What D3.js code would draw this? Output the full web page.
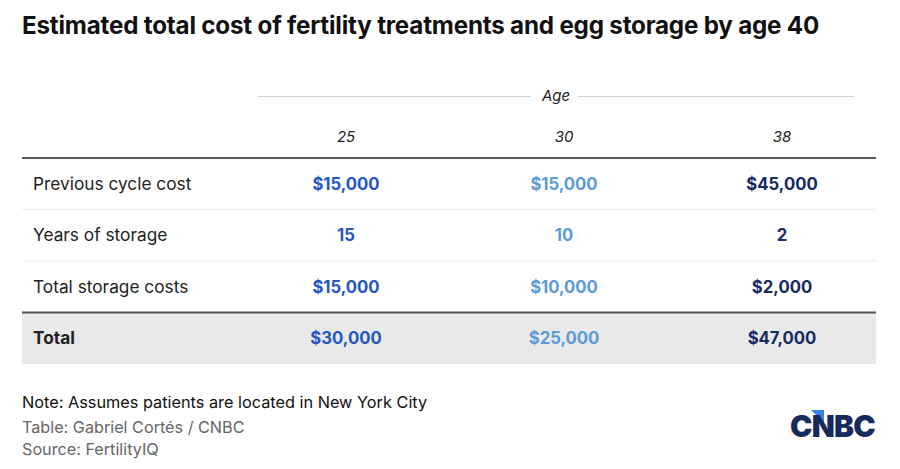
<!DOCTYPE html>
<html>
<head>
<meta charset="utf-8">
<script src="https://cdn.jsdelivr.net/npm/d3@7"></script>
<style>
  html, body { margin: 0; padding: 0; background: #fff; }
  svg { display: block; }
</style>
</head>
<body>
<svg id="chart" width="900" height="469"></svg>
<script>
// ---- data ----
const ages = ["25", "30", "38"];
const rowLabels = ["Previous cycle cost", "Years of storage", "Total storage costs", "Total"];
const previousCycleCost = [15000, 15000, 45000];
const yearsOfStorage = [15, 10, 2];
const totalStorageCosts = [15000, 10000, 2000];
const totals = [30000, 25000, 47000];
const ageColors = ["#2456c4", "#5b9bd8", "#152a63"];
const title = "Estimated total cost of fertility treatments and egg storage by age 40";
const note = "Note: Assumes patients are located in New York City";
const credit = "Table: Gabriel Cortés / CNBC";
const source = "Source: FertilityIQ";

const rows = [
  { label: rowLabels[0], values: previousCycleCost, fmt: "money" },
  { label: rowLabels[1], values: yearsOfStorage, fmt: "plain" },
  { label: rowLabels[2], values: totalStorageCosts, fmt: "money" },
  { label: rowLabels[3], values: totals, fmt: "money", total: true }
];

const money = v => "$" + d3.format(",")(v);
const FONT = "Inter, 'Open Sans', sans-serif";

const svg = d3.select("#chart");
const left = 22, right = 876;

// scales
const x = d3.scalePoint().domain(ages).range([346, 782]);
const color = d3.scaleOrdinal().domain(ages).range(ageColors);
const y = d3.scaleBand().domain(rowLabels).range([158, 364]).paddingInner(0);

// title
svg.append("text")
  .attr("x", left).attr("y", 34)
  .attr("font-family", FONT).attr("font-weight", 700)
  .attr("font-size", 24.2).attr("fill", "#111")
  .attr("letter-spacing", -0.2)
  .text(title);

// Age spanner
svg.append("line").attr("x1", 258).attr("x2", 531).attr("y1", 96.5).attr("y2", 96.5)
  .attr("stroke", "#d0d0d0").attr("stroke-width", 1.2);
svg.append("line").attr("x1", 578).attr("x2", 854).attr("y1", 96.5).attr("y2", 96.5)
  .attr("stroke", "#d0d0d0").attr("stroke-width", 1.2);
svg.append("text").attr("x", 556).attr("y", 101)
  .attr("text-anchor", "middle").attr("font-family", FONT).attr("font-style", "italic")
  .attr("font-size", 15).attr("fill", "#222").text("Age");

// column headers
svg.selectAll("text.colhead").data(ages).join("text")
  .attr("class", "colhead")
  .attr("x", d => x(d)).attr("y", 142)
  .attr("text-anchor", "middle").attr("font-family", FONT).attr("font-style", "italic")
  .attr("font-size", 15).attr("fill", "#222").text(d => d);

// total background
svg.append("rect")
  .attr("x", left).attr("width", right - left)
  .attr("y", y("Total")).attr("height", y.bandwidth())
  .attr("fill", "#e9e9e9");

// row separators
rowLabels.slice(1).forEach((lab) => {
  const isTot = lab === "Total";
  svg.append("line")
    .attr("x1", left).attr("x2", right)
    .attr("y1", y(lab)).attr("y2", y(lab))
    .attr("stroke", isTot ? "#555" : "#ebebeb")
    .attr("stroke-width", isTot ? 2 : 1.2);
});
// header rule
svg.append("line").attr("x1", left).attr("x2", right)
  .attr("y1", y.range()[0]).attr("y2", y.range()[0])
  .attr("stroke", "#222").attr("stroke-width", 1.5);

// rows
const g = svg.selectAll("g.row").data(rows).join("g")
  .attr("class", "row")
  .attr("transform", d => `translate(0, ${y(d.label) + y.bandwidth() / 2})`);

g.append("text")
  .attr("x", 33).attr("y", 6)
  .attr("font-family", FONT).attr("font-size", 17.3)
  .attr("font-weight", d => d.total ? 700 : 400)
  .attr("fill", "#222")
  .text(d => d.label);

g.selectAll("text.val").data(d => d.values.map((v, i) => ({ v, age: ages[i], fmt: d.fmt })))
  .join("text").attr("class", "val")
  .attr("x", d => x(d.age)).attr("y", 6)
  .attr("text-anchor", "middle").attr("font-family", FONT)
  .attr("font-size", 16.7).attr("font-weight", 700)
  .attr("fill", d => color(d.age))
  .text(d => d.fmt === "money" ? money(d.v) : d.v);

// footer
svg.append("text").attr("x", left).attr("y", 408)
  .attr("font-family", FONT).attr("font-size", 16.3).attr("fill", "#111").text(note);
svg.append("text").attr("x", left).attr("y", 433)
  .attr("font-family", FONT).attr("font-size", 16.2).attr("fill", "#666").text(credit);
svg.append("text").attr("x", left).attr("y", 455)
  .attr("font-family", FONT).attr("font-size", 16.2).attr("fill", "#666").text(source);

// CNBC logo
const logo = svg.append("g").attr("transform", "translate(790, 437)");
logo.append("path").attr("d", "M21,-27 L34,-27 L34,-14 Z").attr("fill", "#3b82e6");
logo.append("text").attr("x", 0).attr("y", 0)
  .attr("font-family", FONT).attr("font-weight", 900).attr("font-size", 30)
  .attr("fill", "#172a5e").attr("letter-spacing", -0.8).text("CNBC");
</script>
</body>
</html>
